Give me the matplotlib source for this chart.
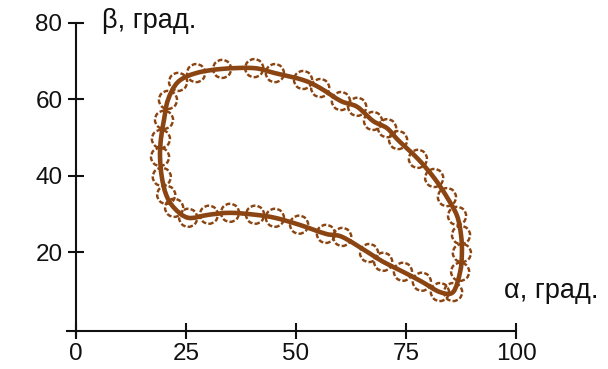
import matplotlib
matplotlib.use("Agg")
import matplotlib.pyplot as plt
from matplotlib.path import Path
from matplotlib.patches import PathPatch
import numpy as np

# Data (closed loop, clockwise from left side)
alpha = [20.9, 20.0, 19.3, 19.1, 19.5, 20.5, 22.3, 25.5, 30.2, 35.0, 40.7, 45.2,
         50.7, 56.8, 60.5, 66.6, 69.8, 74.3, 78.6, 82.7, 85.7, 87.3, 87.7, 87.5,
         86.6, 84.3, 81.4, 77.7, 73.2, 70.7, 67.5, 63.9, 60.2, 55.5, 51.6, 45.2,
         40.5, 33.2, 27.3, 23.2]
beta = [59.8, 54.6, 49.6, 44.9, 39.7, 35.0, 31.6, 29.0, 29.8, 30.3, 29.8, 29.0,
        27.2, 24.8, 24.0, 19.8, 17.5, 14.9, 12.3, 9.6, 9.6, 14.9, 19.8, 24.5,
        29.5, 34.4, 39.4, 44.4, 49.3, 52.4, 54.3, 58.0, 59.5, 62.9, 65.0, 66.8,
        68.1, 67.9, 66.8, 64.5]
x_ticks = [0, 25, 50, 75, 100]
y_ticks = [20, 40, 60, 80]
x_label = "α, град."
y_label = "β, град."

brown = "#8B4513"
ink = "#111111"
plt.rcParams['font.family'] = ['Liberation Sans', 'DejaVu Sans']

fig = plt.figure(figsize=(6.08, 3.69), dpi=100)
ax = fig.add_axes([0, 0, 1, 1])
ax.set_xlim(-17.27, 120.9)
ax.set_ylim(-10.5, 85.9)
ax.patch.set_alpha(0)

# Smooth closed curve through the points: Catmull-Rom control points as cubic Bezier path
P = np.column_stack([alpha, beta])
n = len(P)
verts = [tuple(P[0])]
codes = [Path.MOVETO]
for i in range(n):
    p0, p1, p2, p3 = P[(i - 1) % n], P[i], P[(i + 1) % n], P[(i + 2) % n]
    c1 = p1 + (p2 - p0) / 6.0
    c2 = p2 - (p3 - p1) / 6.0
    verts += [tuple(c1), tuple(c2), tuple(p2)]
    codes += [Path.CURVE4] * 3
curve = PathPatch(Path(verts, codes), facecolor='none', edgecolor=brown,
                  lw=3.3, joinstyle='round', zorder=3)
ax.add_patch(curve)

ax.scatter(alpha, beta, s=170, facecolors='none', edgecolors=brown,
           linewidths=1.75, linestyles=(0, (2.0, 0.9)), zorder=2)

for s in ['top', 'right']:
    ax.spines[s].set_visible(False)
ax.spines['left'].set_position(('data', 0))
ax.spines['bottom'].set_position(('data', -0.5))
ax.spines['left'].set_bounds(-2, 80)
ax.spines['bottom'].set_bounds(-2, 100)
for s in ['left', 'bottom']:
    ax.spines[s].set_linewidth(1.5)
    ax.spines[s].set_color(ink)

ax.set_xticks(x_ticks)
ax.set_yticks(y_ticks)
ax.tick_params(axis='both', direction='inout', length=11.5, width=1.5,
               color=ink, labelsize=17.5, labelcolor=ink)
ax.tick_params(axis='y', pad=4)
ax.tick_params(axis='x', pad=3)

ax.text(5.9, 80.3, y_label, fontsize=19.5, color=ink, ha='left', va='center')
ax.text(97.3, 9.8, x_label, fontsize=19.5, color=ink, ha='left', va='center')

fig.savefig("out.png", dpi=100)
